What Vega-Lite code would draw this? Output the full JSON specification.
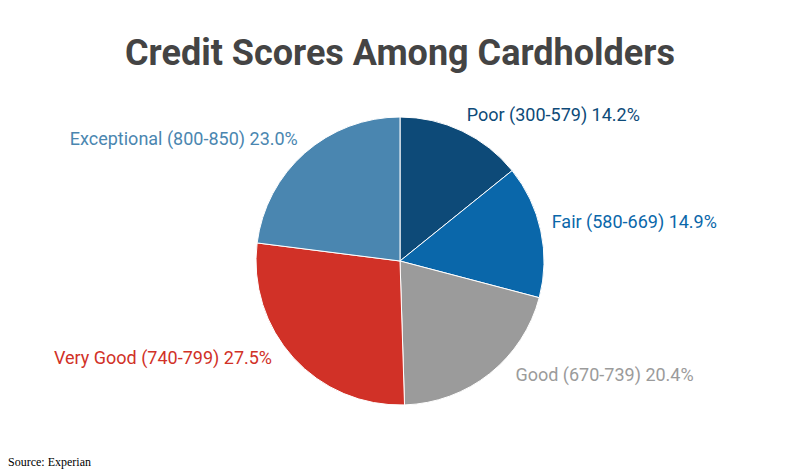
{
  "$schema": "https://vega.github.io/schema/vega-lite/v6.json",
  "description": "Credit scores among cardholders, pie chart with outside labels",
  "background": "white",
  "padding": {"left": 0, "right": 0, "top": 36, "bottom": 8},
  "config": {"view": {"stroke": null}, "concat": {"spacing": 0}},
  "title": {
    "text": "Source: Experian",
    "orient": "bottom",
    "anchor": "start",
    "font": "Liberation Serif",
    "fontSize": 12,
    "fontWeight": "normal",
    "color": "#000000",
    "dx": 8,
    "offset": 36
  },
  "vconcat": [
    {
      "title": {
        "text": "Credit Scores Among Cardholders",
        "font": "Roboto",
        "fontSize": 36,
        "fontWeight": "bold",
        "color": "#444444",
        "anchor": "middle",
        "offset": 28
      },
      "width": 800,
      "height": 320,
      "data": {
        "values": [
          {"order": 1, "category": "Poor (300-579)", "share": 14.2, "label": "Poor (300-579) 14.2%"},
          {"order": 2, "category": "Fair (580-669)", "share": 14.9, "label": "Fair (580-669) 14.9%"},
          {"order": 3, "category": "Good (670-739)", "share": 20.4, "label": "Good (670-739) 20.4%"},
          {"order": 4, "category": "Very Good (740-799)", "share": 27.5, "label": "Very Good (740-799) 27.5%"},
          {"order": 5, "category": "Exceptional (800-850)", "share": 23.0, "label": "Exceptional (800-850) 23.0%"}
        ]
      },
      "encoding": {
        "theta": {"field": "share", "type": "quantitative", "stack": true},
        "order": {"field": "order", "type": "quantitative"},
        "color": {
          "field": "category",
          "type": "nominal",
          "scale": {
            "domain": ["Poor (300-579)", "Fair (580-669)", "Good (670-739)", "Very Good (740-799)", "Exceptional (800-850)"],
            "range": ["#0d4a78", "#0a67aa", "#9b9b9b", "#d13127", "#4a86b0"]
          },
          "legend": null
        }
      },
      "layer": [
        {"mark": {"type": "arc", "outerRadius": 144, "stroke": "white", "strokeWidth": 1}},
        {
          "mark": {"type": "text", "radius": 150, "align": "left", "baseline": "middle", "font": "Roboto", "fontSize": 18, "dx": 2, "dy": -10},
          "encoding": {"text": {"condition": {"test": "datum.order == 1", "field": "label", "type": "nominal"}, "value": ""}}
        },
        {
          "mark": {"type": "text", "radius": 150, "align": "left", "baseline": "middle", "font": "Roboto", "fontSize": 18, "dx": 5, "dy": -7},
          "encoding": {"text": {"condition": {"test": "datum.order == 2", "field": "label", "type": "nominal"}, "value": ""}}
        },
        {
          "mark": {"type": "text", "radius": 150, "align": "left", "baseline": "middle", "font": "Roboto", "fontSize": 18, "dx": 22, "dy": -2},
          "encoding": {"text": {"condition": {"test": "datum.order == 3", "field": "label", "type": "nominal"}, "value": ""}}
        },
        {
          "mark": {"type": "text", "radius": 150, "align": "right", "baseline": "middle", "font": "Roboto", "fontSize": 18, "dx": -17, "dy": -3},
          "encoding": {"text": {"condition": {"test": "datum.order == 4", "field": "label", "type": "nominal"}, "value": ""}}
        },
        {
          "mark": {"type": "text", "radius": 150, "align": "right", "baseline": "middle", "font": "Roboto", "fontSize": 18, "dx": -3, "dy": -8},
          "encoding": {"text": {"condition": {"test": "datum.order == 5", "field": "label", "type": "nominal"}, "value": ""}}
        }
      ]
    }
  ]
}
